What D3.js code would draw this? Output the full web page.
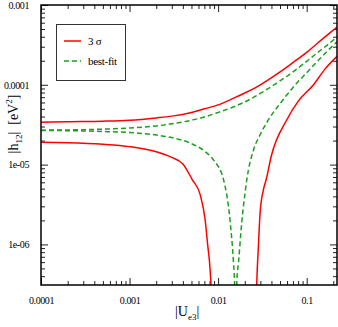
<!doctype html>
<html>
<head>
<meta charset="UTF-8" />
<script src="https://d3js.org/d3.v7.min.js"></script>
<style>
  body { margin: 0; background: #fff; }
  svg { display: block; }
  text { font-family: "Liberation Serif", "DejaVu Serif", serif; fill: #000; }
</style>
</head>
<body>
<svg id="chart" width="338" height="327"></svg>
<script>
(function(){
  "use strict";

  // axis ticks and labels
  const xMajor = [0.0001, 0.001, 0.01, 0.1];
  const xMajorLabels = ["0.0001", "0.001", "0.01", "0.1"];
  const yMajor = [0.001, 0.0001, 0.00001, 0.000001];
  const yMajorLabels = ["0.001", "0.0001", "1e-05", "1e-06"];

  // 3 sigma, upper branch
  const redUpX = [0.0001, 0.0002, 0.0005, 0.001, 0.002, 0.003, 0.005, 0.007, 0.01, 0.015, 0.02, 0.03, 0.05, 0.07, 0.1, 0.14, 0.18, 0.22];
  const redUpY = [3.4e-5, 3.45e-5, 3.5e-5, 3.6e-5, 3.85e-5, 4.05e-5, 4.5e-5, 5.0e-5, 5.6e-5, 6.8e-5, 7.9e-5, 1.0e-4, 1.45e-4, 1.9e-4, 2.55e-4, 3.5e-4, 4.4e-4, 5.3e-4];
  // 3 sigma, lower branch left of the dip
  const redLoLX = [0.0001, 0.0002, 0.0005, 0.001, 0.002, 0.003, 0.004, 0.0051, 0.00627, 0.00713, 0.00765, 0.008, 0.00826, 0.0085];
  const redLoLY = [1.9e-5, 1.88e-5, 1.8e-5, 1.68e-5, 1.45e-5, 1.23e-5, 1.02e-5, 6.5e-6, 4.2e-6, 2.05e-6, 9.5e-7, 6e-7, 3.6e-7, 2e-7];
  // 3 sigma, lower branch right of the dip
  const redLoRX = [0.027, 0.0274, 0.0285, 0.0298, 0.0325, 0.0349, 0.04, 0.0597, 0.08, 0.1195, 0.16, 0.22];
  const redLoRY = [2e-7, 3.6e-7, 9.5e-7, 2.49e-6, 4.87e-6, 6.5e-6, 1.3e-5, 3.65e-5, 6.2e-5, 1.0e-4, 1.56e-4, 2.27e-4];

  // best-fit, upper branch
  const bestUpX = [0.0001, 0.0002, 0.0005, 0.001, 0.002, 0.003, 0.005, 0.007, 0.01, 0.015, 0.02, 0.03, 0.05, 0.07, 0.1, 0.14, 0.18, 0.22];
  const bestUpY = [2.7e-5, 2.72e-5, 2.78e-5, 2.88e-5, 3.05e-5, 3.25e-5, 3.6e-5, 3.95e-5, 4.5e-5, 5.3e-5, 6.1e-5, 7.8e-5, 1.12e-4, 1.45e-4, 1.97e-4, 2.65e-4, 3.3e-4, 4.0e-4];
  // best-fit, lower branch left of the dip
  const bestLoLX = [0.0001, 0.0002, 0.0005, 0.001, 0.002, 0.003, 0.005, 0.007, 0.009, 0.0115, 0.0137, 0.0149, 0.0153, 0.0156];
  const bestLoLY = [2.68e-5, 2.66e-5, 2.6e-5, 2.52e-5, 2.35e-5, 2.18e-5, 1.83e-5, 1.48e-5, 1.12e-5, 6.5e-6, 1.9e-6, 6e-7, 3.5e-7, 1.5e-7];
  // best-fit, lower branch right of the dip
  const bestLoRX = [0.016, 0.0163, 0.017, 0.0185, 0.0202, 0.0211, 0.025, 0.03, 0.037, 0.05, 0.0775, 0.1, 0.14, 0.18, 0.22];
  const bestLoRY = [1.5e-7, 3.6e-7, 6e-7, 1.9e-6, 4.5e-6, 6.5e-6, 1.5e-5, 2.4e-5, 3.65e-5, 5.8e-5, 1.05e-4, 1.42e-4, 2.1e-4, 2.8e-4, 3.45e-4];

  const legendNames = ["3 \u03c3", "best-fit"];

  const svg = d3.select("#chart");
  const margin = {top: 5, right: 1, bottom: 42, left: 41};
  const width = 338 - margin.left - margin.right;
  const height = 327 - margin.top - margin.bottom;

  const x = d3.scaleLog().domain([0.0001, 0.22]).range([0, width]);
  const y = d3.scaleLog().domain([3.1e-7, 0.001]).range([height, 0]);

  const g = svg.append("g").attr("transform", "translate(" + margin.left + "," + margin.top + ")");

  g.append("clipPath").attr("id", "clip")
    .append("rect").attr("width", width).attr("height", height);

  // minor ticks 2..9 per decade inside the domain
  function minors(scale){
    const d = scale.domain();
    const out = [];
    for (let e = -8; e <= 0; e++){
      for (let k = 2; k <= 9; k++){
        const v = k * Math.pow(10, e);
        if (v > d[0] * 1.0001 && v < d[1] * 0.9999) out.push(v);
      }
    }
    return out;
  }

  function fmtFrom(values, labels){
    return function(v){ return labels[values.indexOf(v)]; };
  }

  // bottom
  g.append("g").attr("class", "axis").attr("transform", "translate(0," + height + ")")
    .call(d3.axisBottom(x).tickValues(minors(x)).tickSize(-4).tickSizeOuter(0).tickFormat(""));
  g.append("g").attr("class", "axis").attr("transform", "translate(0," + height + ")")
    .call(d3.axisBottom(x).tickValues(xMajor).tickSize(-7).tickSizeOuter(0).tickPadding(12).tickFormat(fmtFrom(xMajor, xMajorLabels)));
  // top
  g.append("g").attr("class", "axis")
    .call(d3.axisTop(x).tickValues(minors(x)).tickSize(-4).tickSizeOuter(0).tickFormat(""));
  g.append("g").attr("class", "axis")
    .call(d3.axisTop(x).tickValues(xMajor).tickSize(-7).tickSizeOuter(0).tickFormat(""));
  // left
  g.append("g").attr("class", "axis")
    .call(d3.axisLeft(y).tickValues(minors(y)).tickSize(-4).tickSizeOuter(0).tickFormat(""));
  g.append("g").attr("class", "axis")
    .call(d3.axisLeft(y).tickValues(yMajor).tickSize(-7).tickSizeOuter(0).tickPadding(12).tickFormat(fmtFrom(yMajor, yMajorLabels)));
  // right
  g.append("g").attr("class", "axis").attr("transform", "translate(" + width + ",0)")
    .call(d3.axisRight(y).tickValues(minors(y)).tickSize(-4).tickSizeOuter(0).tickFormat(""));
  g.append("g").attr("class", "axis").attr("transform", "translate(" + width + ",0)")
    .call(d3.axisRight(y).tickValues(yMajor).tickSize(-7).tickSizeOuter(0).tickFormat(""));

  g.selectAll(".axis .domain").remove();
  g.selectAll(".axis line").attr("stroke", "#222").attr("stroke-width", 1);
  g.selectAll(".axis text")
    .attr("font-family", "Liberation Serif, serif")
    .attr("font-size", 10)
    .attr("letter-spacing", -0.4)
    .attr("fill", "#000");

  // curves
  const line = d3.line()
    .x(function(d){ return x(d[0]); })
    .y(function(d){ return y(d[1]); })
    .curve(d3.curveMonotoneX);

  const curves = [
    {xs: redUpX, ys: redUpY, color: "#ff0000", dash: null},
    {xs: redLoLX, ys: redLoLY, color: "#ff0000", dash: null},
    {xs: redLoRX, ys: redLoRY, color: "#ff0000", dash: null},
    {xs: bestUpX, ys: bestUpY, color: "#1e9e1e", dash: "5,3"},
    {xs: bestLoLX, ys: bestLoLY, color: "#1e9e1e", dash: "5,3"},
    {xs: bestLoRX, ys: bestLoRY, color: "#1e9e1e", dash: "5,3"}
  ];

  g.append("g").attr("clip-path", "url(#clip)")
    .selectAll("path")
    .data(curves)
    .enter().append("path")
    .attr("d", function(c){ return line(c.xs.map(function(v, i){ return [v, c.ys[i]]; })); })
    .attr("fill", "none")
    .attr("stroke", function(c){ return c.color; })
    .attr("stroke-width", 1.5)
    .attr("stroke-dasharray", function(c){ return c.dash; });

  // frame
  g.append("rect")
    .attr("width", width).attr("height", height)
    .attr("fill", "none").attr("stroke", "#000").attr("stroke-width", 1.5);

  // legend
  const leg = svg.append("g");
  leg.append("rect")
    .attr("x", 56.5).attr("y", 24.5).attr("width", 69).attr("height", 56)
    .attr("fill", "#fff").attr("stroke", "#333").attr("stroke-width", 1);
  const legColors = ["#ff0000", "#1e9e1e"];
  const legDash = [null, "5,3"];
  legendNames.forEach(function(name, i){
    leg.append("line")
      .attr("x1", 64).attr("x2", 81).attr("y1", 41 + i * 20).attr("y2", 41 + i * 20)
      .attr("stroke", legColors[i]).attr("stroke-width", 1.5)
      .attr("stroke-dasharray", legDash[i]);
    leg.append("text")
      .attr("x", 88).attr("y", 45 + i * 20)
      .attr("font-size", 11).attr("letter-spacing", -0.3)
      .text(name);
  });

  // axis titles
  const xt = svg.append("text")
    .attr("x", 175).attr("y", 316)
    .attr("font-size", 14);
  xt.append("tspan").text("|U");
  xt.append("tspan").attr("font-size", 9).attr("dy", 4).text("e3");
  xt.append("tspan").attr("dy", -4).text("|");

  const yt = svg.append("text")
    .attr("transform", "translate(18,124) rotate(-90)")
    .attr("text-anchor", "middle")
    .attr("font-size", 14)
    .style("white-space", "pre");
  yt.append("tspan").text("|h");
  yt.append("tspan").attr("font-size", 9).attr("dy", 4).text("12");
  yt.append("tspan").attr("dy", -4).text("|  [eV");
  yt.append("tspan").attr("font-size", 9).attr("dy", -6).text("2");
  yt.append("tspan").attr("dy", 6).text("]");

})();
</script>
</body>
</html>
